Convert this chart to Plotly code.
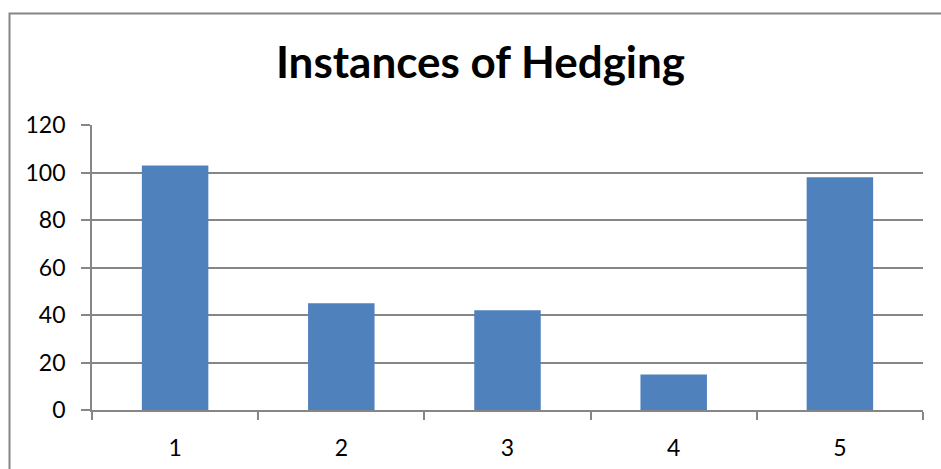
import plotly.graph_objects as go

categories = ["1", "2", "3", "4", "5"]
values = [103, 45, 42, 15, 98]
y_ticks = [0, 20, 40, 60, 80, 100, 120]

GRAY = "#868686"
BAR = "#4F81BD"
FONT = "Lato, Carlito, Calibri, 'Open Sans', sans-serif"

fig = go.Figure()
fig.add_trace(go.Bar(x=categories, y=values, marker=dict(color=BAR, line=dict(width=0)),
                     hoverinfo="x+y"))

W, H = 941, 469
L, R, T, B = 92, 18, 125, 59
pw, ph = W - L - R, H - T - B

fig.update_layout(
    width=W, height=H,
    margin=dict(l=L, r=R, t=T, b=B, pad=0),
    paper_bgcolor="white", plot_bgcolor="white",
    bargap=0.6,
    showlegend=False,
    font=dict(family=FONT, size=23, color="black"),
    title=dict(text="<b>Instances of Hedging</b>", x=480.5 / W, xanchor="center",
               xref="container", y=1 - 63 / H, yanchor="middle", yref="container",
               font=dict(family=FONT, size=44, color="black")),
    xaxis=dict(type="category", tickson="boundaries", ticks="outside", ticklen=8,
               tickcolor=GRAY, tickwidth=1.5, showline=True, linecolor=GRAY, linewidth=1.8,
               showgrid=False, ticklabelstandoff=16, automargin=False,
               tickfont=dict(size=23, color="black")),
    yaxis=dict(range=[0, 120], tickvals=y_ticks, ticks="outside", ticklen=9,
               tickcolor=GRAY, tickwidth=1.5, showline=True, linecolor=GRAY, linewidth=1.8,
               showgrid=True, gridcolor=GRAY, gridwidth=1.6, zeroline=False,
               ticklabelstandoff=11, automargin=False,
               tickfont=dict(size=23, color="black")),
    shapes=[dict(type="rect", xref="paper", yref="paper",
                 x0=(9.5 - L) / pw, x1=(W + 10 - L) / pw,
                 y0=-(B + 20) / ph, y1=(H - B - 13.5) / ph,
                 line=dict(color=GRAY, width=2), fillcolor="rgba(0,0,0,0)", layer="above")],
)

fig.write_html("out.html")
